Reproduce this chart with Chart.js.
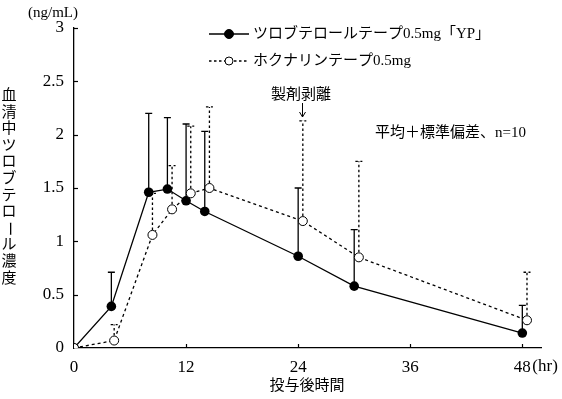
<!DOCTYPE html>
<html>
<head>
<meta charset="utf-8">
<script src="https://cdn.jsdelivr.net/npm/chart.js@4"></script>
<style>
  body { margin: 0; background: #fff; }
  canvas { display: block; }
</style>
</head>
<body>
<canvas id="chart" width="562" height="399"></canvas>
<script>
// 時間 (hr)
const times = [0, 4, 8, 10, 12, 14, 24, 30, 48];
// ホクナリンは図上で少し右にずらして描かれている
const hokuTimes = [0, 4.3, 8.4, 10.5, 12.5, 14.5, 24.5, 30.5, 48.5];
const xTicks = [0, 12, 24, 36, 48];

// ツロブテロールテープ0.5mg「YP」 平均・標準偏差 (ng/mL)
const ypMean = [0, 0.39, 1.46, 1.49, 1.38, 1.28, 0.86, 0.58, 0.14];
const ypSD   = [0, 0.32, 0.74, 0.67, 0.72, 0.75, 0.64, 0.53, 0.26];

// ホクナリンテープ0.5mg
const hokuMean = [0, 0.07, 1.06, 1.30, 1.45, 1.50, 1.19, 0.85, 0.26];
const hokuSD   = [0, 0.15, 0.39, 0.41, 0.63, 0.76, 0.94, 0.90, 0.45];

const labelYP = 'ツロブテロールテープ0.5mg「YP」';
const labelHoku = 'ホクナリンテープ0.5mg';
const yTitle = '血清中ツロブテロール濃度';

const serif = '"Liberation Serif", "Noto Sans CJK JP", serif';
const jpFont = '15px ' + serif;

// 誤差棒・内向き目盛・凡例・注記を描くプラグイン
const extras = {
  id: 'extras',
  beforeDatasetsDraw(chart) {
    const ctx = chart.ctx;
    const xs = chart.scales.x, ys = chart.scales.y;
    const drawBars = (tx, mean, sd, dashed) => {
      ctx.save();
      ctx.strokeStyle = '#000';
      ctx.lineWidth = 1.3;
      ctx.setLineDash(dashed ? [2.5, 2.5] : []);
      tx.forEach((t, i) => {
        if (!sd[i]) return;
        const px = xs.getPixelForValue(t);
        const y0 = ys.getPixelForValue(mean[i]);
        const y1 = ys.getPixelForValue(mean[i] + sd[i]);
        ctx.beginPath();
        ctx.moveTo(px, y0);
        ctx.lineTo(px, y1);
        ctx.moveTo(px - 3.5, y1);
        ctx.lineTo(px + 3.5, y1);
        ctx.stroke();
      });
      ctx.restore();
    };
    drawBars(times, ypMean, ypSD, false);
    drawBars(hokuTimes, hokuMean, hokuSD, true);
  },
  afterDraw(chart) {
    const ctx = chart.ctx;
    const xs = chart.scales.x, ys = chart.scales.y;
    const area = chart.chartArea;
    ctx.save();
    ctx.strokeStyle = '#000';
    ctx.fillStyle = '#000';
    ctx.lineWidth = 1.2;

    // 内向きの目盛
    ys.ticks.forEach(t => {
      if (t.value === 0) return;
      const py = Math.round(ys.getPixelForValue(t.value)) + 0.5;
      ctx.beginPath();
      ctx.moveTo(area.left, py);
      ctx.lineTo(area.left + 4, py);
      ctx.stroke();
    });
    xTicks.forEach(v => {
      if (v === 0) return;
      const px = Math.round(xs.getPixelForValue(v)) + 0.5;
      ctx.beginPath();
      ctx.moveTo(px, area.bottom);
      ctx.lineTo(px, area.bottom - 4);
      ctx.stroke();
    });

    // 単位
    ctx.font = '15px ' + serif;
    ctx.textBaseline = 'middle';
    ctx.textAlign = 'center';
    ctx.fillText('(ng/mL)', 53, 13);
    ctx.font = '17px ' + serif;
    ctx.textAlign = 'left';
    ctx.fillText('(hr)', xs.getPixelForValue(48) + 10, 367);

    // 軸タイトル
    ctx.font = jpFont;
    ctx.textAlign = 'center';
    ctx.fillText('投与後時間', 307, 386);
    [...yTitle].forEach((ch, i) => {
      const cy = 96 + i * 16.6;
      if (ch === 'ー') {
        ctx.save();
        ctx.translate(9, cy);
        ctx.rotate(Math.PI / 2);
        ctx.fillText(ch, 0, 0);
        ctx.restore();
      } else {
        ctx.fillText(ch, 9, cy);
      }
    });

    // 凡例
    const legendRow = (y, dashed, filled, text) => {
      ctx.save();
      ctx.lineWidth = 1.3;
      ctx.setLineDash(dashed ? [2.5, 2.5] : []);
      ctx.beginPath();
      ctx.moveTo(209, y);
      ctx.lineTo(249, y);
      ctx.stroke();
      ctx.setLineDash([]);
      ctx.beginPath();
      ctx.arc(229, y, filled ? 4.5 : 4, 0, Math.PI * 2);
      ctx.fillStyle = filled ? '#000' : '#fff';
      ctx.fill();
      ctx.lineWidth = 1;
      ctx.stroke();
      ctx.restore();
      ctx.textAlign = 'left';
      ctx.fillText(text, 253, y);
    };
    ctx.font = jpFont;
    legendRow(34, false, true, labelYP);
    legendRow(61, true, false, labelHoku);

    // 注記
    ctx.textAlign = 'center';
    ctx.fillText('製剤剥離', 301, 95);
    const ax = Math.round(xs.getPixelForValue(24.5)) - 0.5;
    ctx.lineWidth = 1;
    ctx.beginPath();
    ctx.moveTo(ax, 103);
    ctx.lineTo(ax, 117);
    ctx.moveTo(ax - 3, 112);
    ctx.lineTo(ax, 117);
    ctx.lineTo(ax + 3, 112);
    ctx.stroke();
    ctx.textAlign = 'left';
    ctx.fillText('平均＋標準偏差、n=10', 375, 133);
    ctx.restore();
  }
};

new Chart(document.getElementById('chart'), {
  type: 'line',
  data: {
    datasets: [
      {
        label: labelHoku,
        data: hokuTimes.map((t, i) => ({ x: t, y: hokuMean[i] })),
        borderColor: '#000',
        borderWidth: 1.3,
        borderDash: [3, 3],
        pointRadius: 4.5,
        pointBorderWidth: 1,
        pointBackgroundColor: '#fff',
        pointBorderColor: '#000',
        tension: 0,
        order: 0
      },
      {
        label: labelYP,
        data: times.map((t, i) => ({ x: t, y: ypMean[i] })),
        borderColor: '#000',
        borderWidth: 1.3,
        pointRadius: 4.8,
        pointBorderWidth: 0,
        pointBackgroundColor: '#000',
        tension: 0,
        order: 1
      }
    ]
  },
  options: {
    responsive: false,
    animation: false,
    layout: { padding: { top: 28, right: 21, left: 0, bottom: 0 } },
    plugins: { legend: { display: false }, tooltip: { enabled: false } },
    scales: {
      x: {
        type: 'linear',
        min: 0,
        max: 50,
        afterBuildTicks: s => { s.ticks = xTicks.map(v => ({ value: v })); },
        afterFit: s => { s.height = 51; },
        grid: { display: false, drawTicks: false },
        border: { color: '#000', width: 1.3 },
        ticks: { color: '#000', font: { family: serif, size: 17 }, padding: 9, maxRotation: 0 }
      },
      y: {
        min: 0,
        max: 3,
        afterFit: s => { s.width = 74; },
        grid: { display: false, drawTicks: false },
        border: { color: '#000', width: 1.3 },
        ticks: {
          stepSize: 0.5,
          color: '#000',
          font: { family: serif, size: 17 },
          padding: 10,
          callback: v => String(v)
        }
      }
    }
  },
  plugins: [extras]
});
</script>
</body>
</html>
